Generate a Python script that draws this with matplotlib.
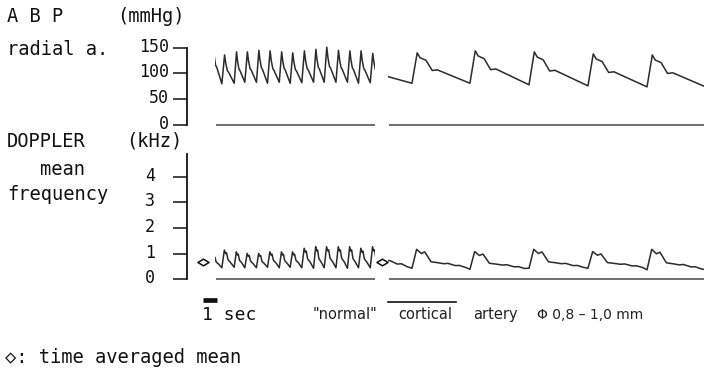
import numpy as np
import matplotlib.pyplot as plt
from matplotlib.patches import Rectangle
from matplotlib.path import Path
from matplotlib.transforms import ScaledTranslation

W, H = 704, 368

# x unit = 1 sec at the fast paper speed; the right part runs ~5x slower
seg_fast = (2.0, 13.4)
seg_slow = (14.36, 36.93)

# beat onsets (incl. one leading / trailing beat that is cut off by the segment)
onsets_fast = [1.68, 2.49, 3.37, 4.13, 4.96, 5.75, 6.59, 7.37, 8.20, 9.04,
               9.80, 10.64, 11.46, 12.25, 13.09, 13.90]
onsets_slow = [11.88, 16.07, 20.21, 24.43, 28.64, 32.86, 37.05]

# arterial blood pressure, radial artery (mmHg)
abp_fast_peak = [157, 136, 142, 142, 145, 144, 142, 140, 144, 147, 151, 145, 144, 144, 139]
abp_fast_trough = [82, 80, 81, 83, 83, 81, 83, 81, 82, 83, 83, 83, 83, 81, 82]
abp_slow_peak = [125, 140, 144, 142, 138, 136]
abp_slow_trough = [78, 81, 81, 78, 76, 74]

# doppler mean frequency (kHz)
dop_fast_peak = [0.94, 1.14, 1.07, 1.01, 1.01, 1.07, 1.07, 1.07, 1.21, 1.27, 1.27, 1.27, 1.27, 1.21, 1.27]
dop_fast_trough = [0.45, 0.45, 0.47, 0.45, 0.45, 0.47, 0.45, 0.47, 0.45, 0.43, 0.45, 0.45, 0.43, 0.45, 0.45]
dop_slow_peak = [1.6, 1.17, 1.08, 1.17, 1.08, 1.17]
dop_slow_trough = [0.43, 0.43, 0.39, 0.43, 0.43, 0.37]

# time averaged mean (diamonds)
mean_x = [1.14, 13.93]
mean_y = [0.66, 0.66]

# pulse shapes (phase in beat, fraction of pulse height)
abp_slow_phase = [0.0, 0.09, 0.14, 0.24, 0.35, 0.44]
abp_slow_level = [0.0, 1.0, 0.84, 0.76, 0.42, 0.44]
abp_fast_phase = [0.0, 0.22, 0.32, 0.45, 0.55]
abp_fast_level = [0.0, 1.0, 0.70, 0.45, 0.40]
dop_slow_phase = [0.0, 0.08, 0.16, 0.22, 0.33, 0.43, 0.55, 0.62, 0.75, 0.82, 0.92]
dop_slow_level = [0.0, 1.0, 0.78, 0.86, 0.34, 0.30, 0.24, 0.26, 0.14, 0.15, 0.05]
dop_fast_phase = [0.0, 0.20, 0.30, 0.38, 0.50, 0.70]
dop_fast_level = [0.0, 1.0, 0.80, 0.85, 0.45, 0.30]

abp_ticks = [0, 50, 100, 150]
dop_ticks = [0, 1, 2, 3, 4]


def trace(onsets, peaks, troughs, phase, level):
    xs, ys = [], []
    for i in range(len(onsets) - 1):
        t0, p = onsets[i], onsets[i + 1] - onsets[i]
        for ph, lv in zip(phase, level):
            xs.append(t0 + ph * p)
            ys.append(troughs[i] + lv * (peaks[i] - troughs[i]))
    xs.append(onsets[-1])
    ys.append(troughs[-1])
    return xs, ys


def box(px_top, px_bottom):
    return [187 / W, 1 - px_bottom / H, (W - 187) / W, (px_bottom - px_top) / H]


mono = ['DejaVu Sans Mono', 'DejaVu Sans']
ink = '#111111'
line_c = '#2b2b2b'

fig = plt.figure(figsize=(W / 100, H / 100), dpi=100)
ax1 = fig.add_axes(box(35, 132))
ax2 = fig.add_axes(box(150, 290))
ax1.set_ylim(-13.6, 174.7)
ax2.set_ylim(-0.417, 5.04)

for ax, bounds, ticks, pad, up in [(ax1, (0, 150), abp_ticks, 3, 3), (ax2, (0, 4.9), dop_ticks, 13, 3)]:
    ax.set_xlim(0, 36.93)
    for s in ['top', 'right', 'bottom']:
        ax.spines[s].set_visible(False)
    ax.spines['left'].set_bounds(*bounds)
    ax.spines['left'].set_linewidth(1.3)
    ax.spines['left'].set_color(ink)
    ax.set_xticks([])
    ax.set_yticks(ticks)
    ax.tick_params(axis='y', length=10, width=1.1, color=ink, pad=pad,
                   labelsize=12, labelcolor=ink)
    for lab in ax.get_yticklabels():
        lab.set_family(mono)
        lab.set_transform(lab.get_transform() + ScaledTranslation(0, up / 100, fig.dpi_scale_trans))
    ax.patch.set_alpha(0)
    for seg in (seg_fast, seg_slow):
        ax.hlines(0, seg[0] + 0.07, seg[1], color='#555555', lw=1.2)


def draw(ax, seg, xs, ys):
    ln, = ax.plot(xs, ys, color=line_c, lw=1.1)
    clip = Rectangle((seg[0], -100), seg[1] - seg[0], 400, transform=ax.transData)
    ln.set_clip_path(clip)


draw(ax1, seg_fast, *trace(onsets_fast, abp_fast_peak, abp_fast_trough, abp_fast_phase, abp_fast_level))
draw(ax1, seg_slow, *trace(onsets_slow, abp_slow_peak, abp_slow_trough, abp_slow_phase, abp_slow_level))
draw(ax2, seg_fast, *trace(onsets_fast, dop_fast_peak, dop_fast_trough, dop_fast_phase, dop_fast_level))
draw(ax2, seg_slow, *trace(onsets_slow, dop_slow_peak, dop_slow_trough, dop_slow_phase, dop_slow_level))

diamond = Path([(-1, 0), (0, 0.6), (1, 0), (0, -0.6), (-1, 0)],
               [Path.MOVETO, Path.LINETO, Path.LINETO, Path.LINETO, Path.CLOSEPOLY])
ax2.plot(mean_x, mean_y, ls='none', marker=diamond, ms=8, mfc='white', mec=ink, mew=1.1)

# 1 sec scale bar
ax2.plot([1.14, 2.14], [-0.8, -0.8], color=ink, lw=3.4, solid_capstyle='butt', clip_on=False)


def label(px, py, s, **kw):
    kw.setdefault('family', mono)
    kw.setdefault('size', 13.5)
    kw.setdefault('color', ink)
    fig.text(px / W, 1 - py / H, s, ha='left', va='baseline', **kw)


label(7, 22, 'A B P')
label(117, 22, '(mmHg)')
label(7, 55, 'radial a.')
label(7, 147, 'DOPPLER')
label(126, 147, '(kHz)')
label(40, 175, 'mean')
label(7, 200, 'frequency')
label(202, 320, '1 sec', size=13)
label(5, 363, '◇: time averaged mean')

sans = ['DejaVu Sans']
label(313, 319, '"normal"', family=sans, size=10.5, color='#222222')
label(398, 319, 'cortical', family=sans, size=10.5, color='#222222')
label(473, 319, 'artery', family=sans, size=10.5, color='#222222')
label(537, 319, 'Φ 0,8 – 1,0 mm', family=sans, size=10, color='#222222')
fig.add_artist(plt.Line2D([388 / W, 456 / W], [1 - 302 / H, 1 - 302 / H], color=ink, lw=1.2))

fig.savefig('out.png', dpi=100, facecolor='white')
